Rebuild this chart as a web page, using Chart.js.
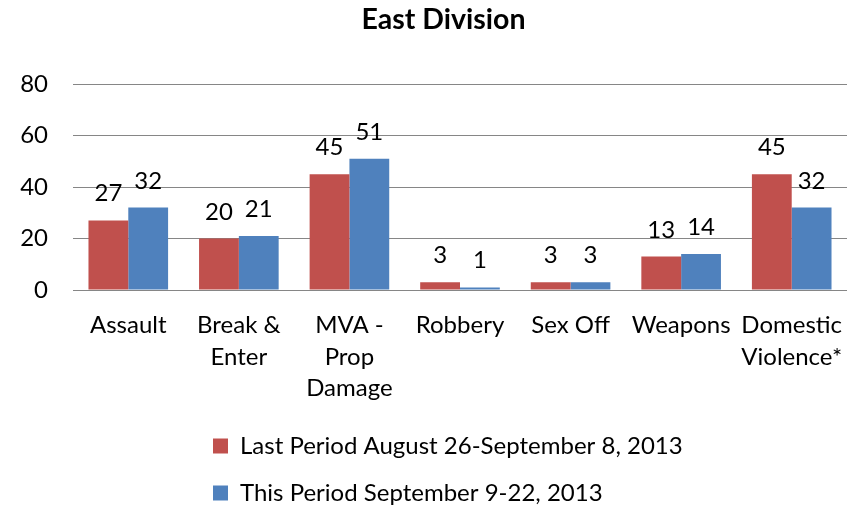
<!DOCTYPE html>
<html>
<head>
<meta charset="utf-8">
<script src="https://cdn.jsdelivr.net/npm/chart.js@4/dist/chart.umd.min.js"></script>
<style>
  html, body { margin: 0; padding: 0; background: #fff; }
  #wrap { width: 847px; height: 508px; }
</style>
</head>
<body>
<div id="wrap"><canvas id="myChart"></canvas></div>
<script>
// chart data
const categories = ['Assault', ['Break &', 'Enter'], ['MVA -', 'Prop', 'Damage'], 'Robbery', 'Sex Off', 'Weapons', ['Domestic', 'Violence*']];
const lastPeriod = [27, 20, 45, 3, 3, 13, 45];
const thisPeriod = [32, 21, 51, 1, 3, 14, 32];
const seriesNames = ['Last Period August 26-September 8, 2013', 'This Period September 9-22, 2013'];
const yTicks = [0, 20, 40, 60, 80];

const FONT = 'Lato';

// value labels above each bar
const barValues = {
    id: 'barValues',
    afterDatasetsDraw(chart) {
        const ctx = chart.ctx;
        ctx.save();
        ctx.font = '24px ' + FONT;
        ctx.fillStyle = '#000';
        ctx.textAlign = 'center';
        ctx.textBaseline = 'alphabetic';
        chart.data.datasets.forEach((ds, i) => {
            chart.getDatasetMeta(i).data.forEach((bar, j) => {
                ctx.fillText(ds.data[j], bar.x, bar.y - 19);
            });
        });
        ctx.restore();
    }
};

// keep both legend rows starting at the same x, and nudge the title, like the original
const legendShift = {
    id: 'legendShift',
    afterLayout(chart) {
        const lg = chart.legend;
        lg.left = 190;
        lg.right = 847;
        lg.top = 411;
        lg.bottom = lg.top + lg.height;
        chart.titleBlock.left = 40;
        chart.titleBlock.right = 847;
    }
};

const ctx = document.getElementById('myChart').getContext('2d');
const myChart = new Chart(ctx, {
    type: 'bar',
    data: {
        labels: categories,
        datasets: [{
            label: seriesNames[0],
            data: lastPeriod,
            backgroundColor: '#c0504d',
            categoryPercentage: 0.72,
            barPercentage: 1.0
        }, {
            label: seriesNames[1],
            data: thisPeriod,
            backgroundColor: '#4f81bd',
            categoryPercentage: 0.72,
            barPercentage: 1.0
        }]
    },
    options: {
        responsive: true,
        maintainAspectRatio: false,
        animation: false,
        layout: { padding: { left: 0, right: -4, top: 0, bottom: 0 } },
        plugins: {
            title: {
                display: true,
                text: 'East Division',
                color: '#000',
                font: { family: FONT, size: 28.5, weight: 'bold', lineHeight: 1.2 },
                padding: { top: 3, bottom: 46.8 }
            },
            legend: {
                position: 'bottom',
                align: 'start',
                labels: {
                    color: '#000',
                    font: { family: FONT, size: 24 },
                    boxWidth: 15,
                    boxHeight: 15,
                    padding: 23
                }
            },
            tooltip: { enabled: false }
        },
        scales: {
            x: {
                grid: { display: false, drawTicks: false },
                border: { display: false },
                ticks: {
                    color: '#000',
                    padding: 20,
                    maxRotation: 0,
                    autoSkip: false,
                    font: { family: FONT, size: 24, lineHeight: '31.5px' }
                },
                afterFit(scale) {
                    scale.height = 114;
                    scale.paddingRight = 0;
                }
            },
            y: {
                min: 0,
                max: 80,
                afterBuildTicks(scale) { scale.ticks = yTicks.map(v => ({ value: v })); },
                grid: { color: '#868686', lineWidth: 1, drawTicks: false },
                border: { display: false },
                ticks: {
                    color: '#000',
                    padding: 25,
                    font: { family: FONT, size: 24 }
                },
                afterFit(scale) { scale.width = 73; }
            }
        }
    },
    plugins: [barValues, legendShift]
});
</script>
</body>
</html>
